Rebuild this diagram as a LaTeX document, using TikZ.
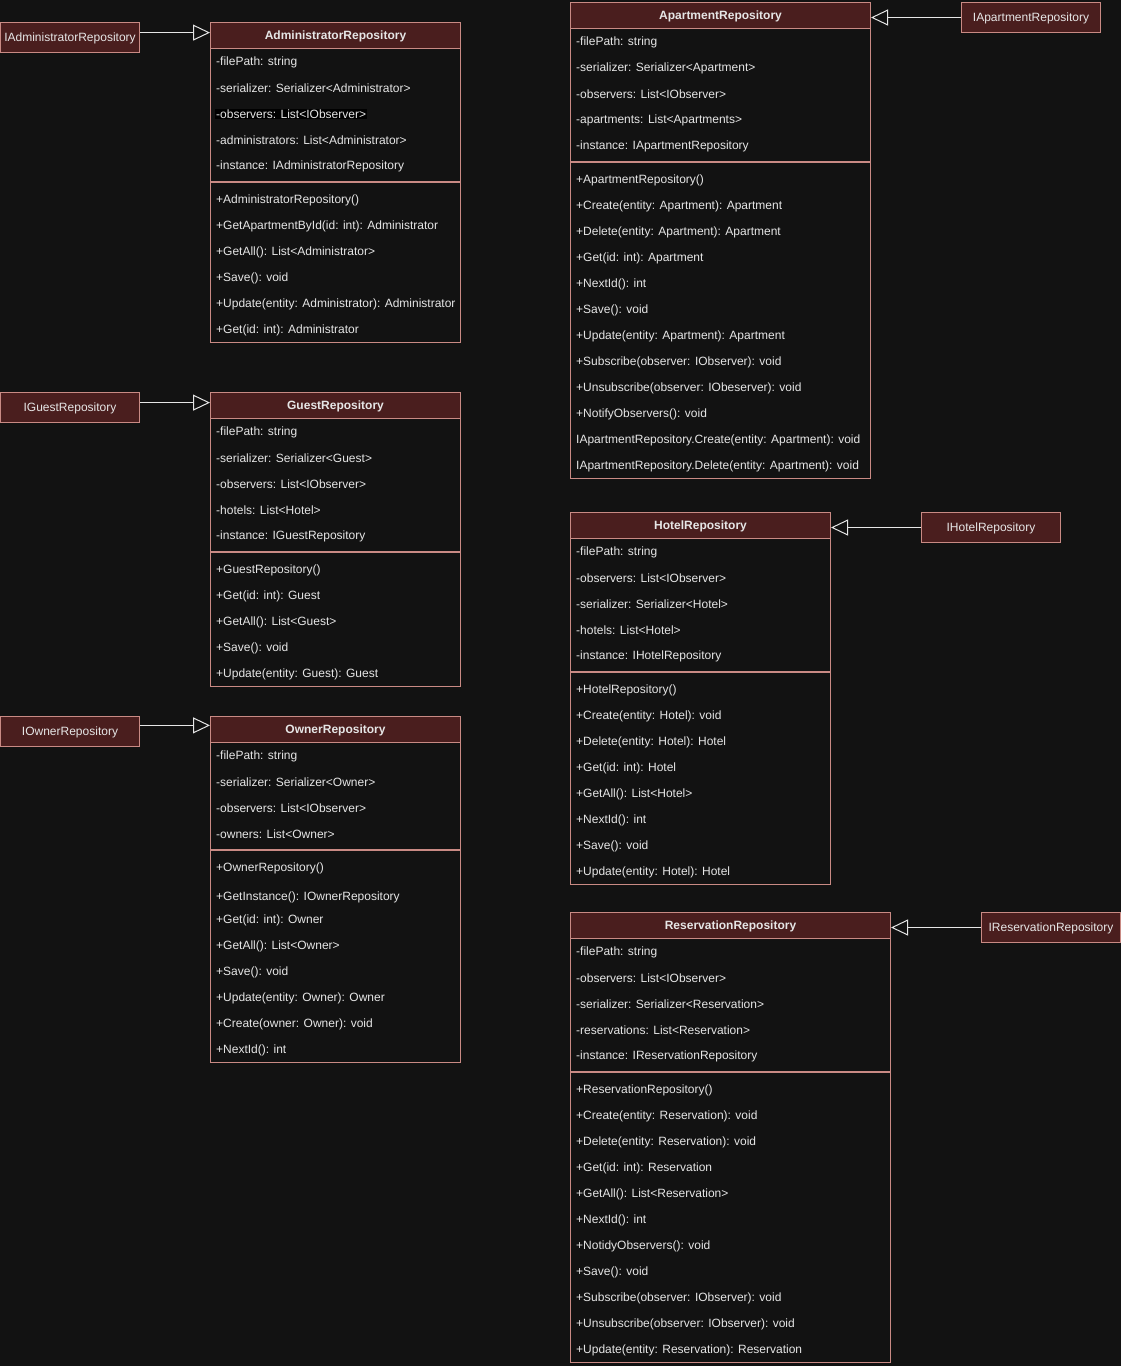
\documentclass[tikz,border=0pt]{standalone}
\usepackage{fontspec}
\setmainfont{Liberation Sans}
\usetikzlibrary{arrows.meta}
\definecolor{bg}{HTML}{121212}
\definecolor{hdrred}{HTML}{4A1E1E}
\definecolor{edge}{HTML}{C98A84}
\definecolor{txt}{HTML}{E6E6E6}

\begin{document}
\begin{tikzpicture}[x=1pt,y=-1pt,
		cls/.style={draw=edge,line width=1pt,anchor=north west,inner sep=0pt},
		hdr/.style={draw=edge,fill=hdrred,line width=1pt,anchor=north west,minimum height=26pt,inner sep=0pt,text depth=0.5pt,text=txt,font=\fontsize{12}{14}\selectfont\bfseries},
		ifc/.style={draw=edge,fill=hdrred,line width=1pt,anchor=north west,minimum width=139pt,minimum height=30pt,inner sep=0pt,text depth=0.5pt,text=txt,font=\fontsize{12}{14}\selectfont},
		mbr/.style={anchor=west,inner sep=0pt,yshift=-1pt,text=txt,font=\fontsize{12}{14}\selectfont},
		divider/.style={draw=edge,line width=2pt},
		impl/.style={draw=txt,line width=1pt,-{Triangle[open,length=17pt,width=16pt]}}]
				\fill[bg] (0,0) rectangle (1121,1366);
				\useasboundingbox (0,0) rectangle (1121,1366);
				
				% AdministratorRepository
				\node (admbox) at (210,22) [cls,minimum width=250pt,minimum height=320pt] {};
				\node (adm) at (210,22) [hdr,minimum width=250pt] {AdministratorRepository};
				\node (adm1) at (216,61) [mbr] {-filePath: string};
				\node (adm2) at (216,87) [mbr] {-serializer: Serializer<Administrator>};
				\node (adm3) at (215,113) [mbr,fill=black,inner sep=1pt] {-observers: List<IObserver>};
				\node (adm4) at (216,139) [mbr] {-administrators: List<Administrator>};
				\node (adm5) at (216,165) [mbr] {-instance: IAdministratorRepository};
				\draw[divider] (210,182) -- (460,182);
				\node (adm6) at (216,199) [mbr] {+AdministratorRepository()};
				\node (adm7) at (216,225) [mbr] {+GetApartmentById(id: int): Administrator};
				\node (adm8) at (216,251) [mbr] {+GetAll(): List<Administrator>};
				\node (adm9) at (216,277) [mbr] {+Save(): void};
				\node (adm10) at (216,303) [mbr] {+Update(entity: Administrator): Administrator};
				\node (adm11) at (216,329) [mbr] {+Get(id: int): Administrator};
				\node (iadm) at (0,22) [ifc] {IAdministratorRepository};
				
				% GuestRepository
				\node (gstbox) at (210,392) [cls,minimum width=250pt,minimum height=294pt] {};
				\node (gst) at (210,392) [hdr,minimum width=250pt] {GuestRepository};
				\node (gst1) at (216,431) [mbr] {-filePath: string};
				\node (gst2) at (216,457) [mbr] {-serializer: Serializer<Guest>};
				\node (gst3) at (216,483) [mbr] {-observers: List<IObserver>};
				\node (gst4) at (216,509) [mbr] {-hotels: List<Hotel>};
				\node (gst5) at (216,535) [mbr] {-instance: IGuestRepository};
				\draw[divider] (210,552) -- (460,552);
				\node (gst6) at (216,569) [mbr] {+GuestRepository()};
				\node (gst7) at (216,595) [mbr] {+Get(id: int): Guest};
				\node (gst8) at (216,621) [mbr] {+GetAll(): List<Guest>};
				\node (gst9) at (216,647) [mbr] {+Save(): void};
				\node (gst10) at (216,673) [mbr] {+Update(entity: Guest): Guest};
				\node (igst) at (0,392) [ifc] {IGuestRepository};
				
				% OwnerRepository
				\node (ownbox) at (210,716) [cls,minimum width=250pt,minimum height=346pt] {};
				\node (own) at (210,716) [hdr,minimum width=250pt] {OwnerRepository};
				\node (own1) at (216,755) [mbr] {-filePath: string};
				\node (own2) at (216,781) [mbr] {-serializer: Serializer<Owner>};
				\node (own3) at (216,807) [mbr] {-observers: List<IObserver>};
				\node (own4) at (216,833) [mbr] {-owners: List<Owner>};
				\draw[divider] (210,850) -- (460,850);
				\node (own5) at (216,867) [mbr] {+OwnerRepository()};
				\node (own6) at (216,896) [mbr] {+GetInstance(): IOwnerRepository};
				\node (own7) at (216,919) [mbr] {+Get(id: int): Owner};
				\node (own8) at (216,945) [mbr] {+GetAll(): List<Owner>};
				\node (own9) at (216,971) [mbr] {+Save(): void};
				\node (own10) at (216,997) [mbr] {+Update(entity: Owner): Owner};
				\node (own11) at (216,1023) [mbr] {+Create(owner: Owner): void};
				\node (own12) at (216,1049) [mbr] {+NextId(): int};
				\node (iown) at (0,716) [ifc] {IOwnerRepository};
				
				% ApartmentRepository
				\node (aptbox) at (570,2) [cls,minimum width=300pt,minimum height=476pt] {};
				\node (apt) at (570,2) [hdr,minimum width=300pt] {ApartmentRepository};
				\node (apt1) at (576,41) [mbr] {-filePath: string};
				\node (apt2) at (576,67) [mbr] {-serializer: Serializer<Apartment>};
				\node (apt3) at (576,93) [mbr] {-observers: List<IObserver>};
				\node (apt4) at (576,119) [mbr] {-apartments: List<Apartments>};
				\node (apt5) at (576,145) [mbr] {-instance: IApartmentRepository};
				\draw[divider] (570,162) -- (870,162);
				\node (apt6) at (576,179) [mbr] {+ApartmentRepository()};
				\node (apt7) at (576,205) [mbr] {+Create(entity: Apartment): Apartment};
				\node (apt8) at (576,231) [mbr] {+Delete(entity: Apartment): Apartment};
				\node (apt9) at (576,257) [mbr] {+Get(id: int): Apartment};
				\node (apt10) at (576,283) [mbr] {+NextId(): int};
				\node (apt11) at (576,309) [mbr] {+Save(): void};
				\node (apt12) at (576,335) [mbr] {+Update(entity: Apartment): Apartment};
				\node (apt13) at (576,361) [mbr] {+Subscribe(observer: IObserver): void};
				\node (apt14) at (576,387) [mbr] {+Unsubscribe(observer: IObeserver): void};
				\node (apt15) at (576,413) [mbr] {+NotifyObservers(): void};
				\node (apt16) at (576,439) [mbr] {IApartmentRepository.Create(entity: Apartment): void};
				\node (apt17) at (576,465) [mbr] {IApartmentRepository.Delete(entity: Apartment): void};
				\node (iapt) at (961,2) [ifc] {IApartmentRepository};
				
				% HotelRepository
				\node (htlbox) at (570,512) [cls,minimum width=260pt,minimum height=372pt] {};
				\node (htl) at (570,512) [hdr,minimum width=260pt] {HotelRepository};
				\node (htl1) at (576,551) [mbr] {-filePath: string};
				\node (htl2) at (576,577) [mbr] {-observers: List<IObserver>};
				\node (htl3) at (576,603) [mbr] {-serializer: Serializer<Hotel>};
				\node (htl4) at (576,629) [mbr] {-hotels: List<Hotel>};
				\node (htl5) at (576,655) [mbr] {-instance: IHotelRepository};
				\draw[divider] (570,672) -- (830,672);
				\node (htl6) at (576,689) [mbr] {+HotelRepository()};
				\node (htl7) at (576,715) [mbr] {+Create(entity: Hotel): void};
				\node (htl8) at (576,741) [mbr] {+Delete(entity: Hotel): Hotel};
				\node (htl9) at (576,767) [mbr] {+Get(id: int): Hotel};
				\node (htl10) at (576,793) [mbr] {+GetAll(): List<Hotel>};
				\node (htl11) at (576,819) [mbr] {+NextId(): int};
				\node (htl12) at (576,845) [mbr] {+Save(): void};
				\node (htl13) at (576,871) [mbr] {+Update(entity: Hotel): Hotel};
				\node (ihtl) at (921,512) [ifc] {IHotelRepository};
				
				% ReservationRepository
				\node (resbox) at (570,912) [cls,minimum width=320pt,minimum height=450pt] {};
				\node (res) at (570,912) [hdr,minimum width=320pt] {ReservationRepository};
				\node (res1) at (576,951) [mbr] {-filePath: string};
				\node (res2) at (576,977) [mbr] {-observers: List<IObserver>};
				\node (res3) at (576,1003) [mbr] {-serializer: Serializer<Reservation>};
				\node (res4) at (576,1029) [mbr] {-reservations: List<Reservation>};
				\node (res5) at (576,1055) [mbr] {-instance: IReservationRepository};
				\draw[divider] (570,1072) -- (890,1072);
				\node (res6) at (576,1089) [mbr] {+ReservationRepository()};
				\node (res7) at (576,1115) [mbr] {+Create(entity: Reservation): void};
				\node (res8) at (576,1141) [mbr] {+Delete(entity: Reservation): void};
				\node (res9) at (576,1167) [mbr] {+Get(id: int): Reservation};
				\node (res10) at (576,1193) [mbr] {+GetAll(): List<Reservation>};
				\node (res11) at (576,1219) [mbr] {+NextId(): int};
				\node (res12) at (576,1245) [mbr] {+NotidyObservers(): void};
				\node (res13) at (576,1271) [mbr] {+Save(): void};
				\node (res14) at (576,1297) [mbr] {+Subscribe(observer: IObserver): void};
				\node (res15) at (576,1323) [mbr] {+Unsubscribe(observer: IObserver): void};
				\node (res16) at (576,1349) [mbr] {+Update(entity: Reservation): Reservation};
				\node (ires) at (981,912) [ifc] {IReservationRepository};
				
				\draw[impl] (iadm.4) -- (iadm.4 -| adm.west);
				\draw[impl] (igst.4) -- (igst.4 -| gst.west);
				\draw[impl] (iown.5) -- (iown.5 -| own.west);
				\draw[impl] (iapt) -- (iapt -| apt.east);
				\draw[impl] (ihtl) -- (ihtl -| htl.east);
				\draw[impl] (ires) -- (ires -| res.east);
			\end{tikzpicture}
\end{document}
